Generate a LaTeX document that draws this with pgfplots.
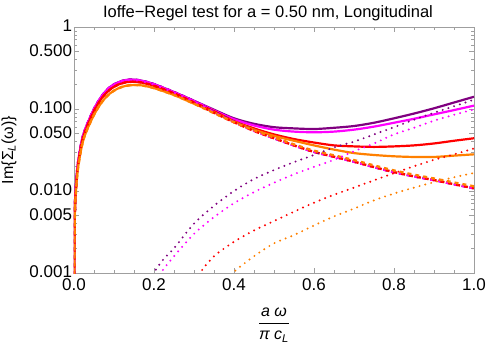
\documentclass[border=0pt]{standalone}
\usepackage{fontspec}
\setmainfont{Liberation Sans}
\usepackage{amsmath}
\usepackage{pgfplots}
\pgfplotsset{compat=1.18}
\usepackage{pgfplotstable}

\definecolor{cpu}{RGB}{128,0,128}
\definecolor{cma}{RGB}{255,0,255}
\definecolor{cre}{RGB}{255,0,0}
\definecolor{cor}{RGB}{255,128,0}

% total Im Sigma_L for the four cases
\pgfplotstableread{
x      pu     ma     re     or
0.0002 0.0006 0.0006 0.0005 0.0005
0.002  0.0055 0.0055 0.0052 0.0048
0.005  0.012  0.012  0.011  0.010
0.01   0.022  0.022  0.021  0.019
0.02   0.042  0.042  0.040  0.036
0.03   0.060  0.060  0.057  0.052
0.05   0.100  0.100  0.095  0.085
0.07   0.145  0.145  0.137  0.122
0.09   0.185  0.185  0.173  0.155
0.11   0.211  0.210  0.198  0.178
0.13   0.226  0.225  0.212  0.192
0.15   0.228  0.227  0.215  0.196
0.17   0.221  0.220  0.210  0.194
0.20   0.201  0.200  0.192  0.180
0.25   0.161  0.160  0.155  0.148
0.30   0.126  0.125  0.120  0.116
0.35   0.098  0.096  0.094  0.091
0.40   0.077  0.075  0.071  0.070
0.45   0.066  0.063  0.058  0.056
0.50   0.060  0.056  0.049  0.047
0.55   0.058  0.053  0.043  0.041
0.60   0.057  0.052  0.039  0.036
0.65   0.059  0.053  0.036  0.032
0.70   0.062  0.056  0.035  0.029
0.75   0.068  0.061  0.0345 0.0275
0.80   0.077  0.068  0.035  0.0265
0.85   0.088  0.076  0.036  0.026
0.90   0.102  0.086  0.038  0.026
0.95   0.120  0.097  0.041  0.027
1.00   0.141  0.110  0.044  0.028
}\solid

% first contribution (dashed)
\pgfplotstableread{
x      pu     ma     re     or
0.0002 0.0006 0.0006 0.0005 0.0005
0.002  0.0055 0.0055 0.0052 0.0048
0.005  0.012  0.012  0.011  0.010
0.01   0.022  0.022  0.021  0.019
0.02   0.042  0.042  0.040  0.036
0.03   0.060  0.060  0.057  0.052
0.05   0.100  0.100  0.095  0.085
0.07   0.145  0.145  0.137  0.122
0.09   0.185  0.185  0.173  0.155
0.11   0.211  0.210  0.198  0.178
0.13   0.226  0.225  0.212  0.192
0.15   0.228  0.227  0.215  0.196
0.17   0.221  0.220  0.210  0.194
0.20   0.201  0.200  0.192  0.180
0.25   0.161  0.160  0.155  0.148
0.30   0.125  0.124  0.120  0.116
0.35   0.092  0.091  0.090  0.089
0.40   0.070  0.069  0.069  0.069
0.45   0.055  0.054  0.054  0.055
0.50   0.044  0.044  0.044  0.045
0.55   0.036  0.036  0.036  0.037
0.60   0.0300 0.0300 0.0300 0.0310
0.65   0.0262 0.0262 0.0262 0.0272
0.70   0.0228 0.0228 0.0228 0.0238
0.75   0.0196 0.0196 0.0196 0.0205
0.80   0.0170 0.0170 0.0170 0.0178
0.85   0.0151 0.0151 0.0151 0.0158
0.90   0.0136 0.0136 0.0136 0.0142
0.95   0.0121 0.0121 0.0121 0.0127
1.00   0.0108 0.0108 0.0108 0.0114
}\dashd

% second contribution (dotted), one table per case
\pgfplotstableread{
x     y
0.195 0.0008
0.200 0.0010
0.210 0.0012
0.225 0.0015
0.25  0.0020
0.30  0.0040
0.35  0.0066
0.40  0.0100
0.45  0.0140
0.50  0.0180
0.55  0.0225
0.60  0.0275
0.65  0.0340
0.70  0.0400
0.75  0.0490
0.80  0.0600
0.85  0.0740
0.90  0.0900
0.95  0.1080
1.00  0.1300
}\dotpu
\pgfplotstableread{
x     y
0.212 0.0008
0.217 0.0010
0.25  0.0016
0.30  0.0030
0.35  0.0048
0.40  0.0071
0.45  0.0097
0.50  0.0126
0.55  0.0160
0.60  0.0197
0.65  0.0240
0.70  0.0305
0.75  0.0380
0.80  0.0490
0.85  0.0590
0.90  0.0720
0.95  0.0850
1.00  0.0990
}\dotma
\pgfplotstableread{
x     y
0.310 0.0008
0.315 0.0010
0.35  0.0016
0.40  0.0024
0.45  0.0033
0.50  0.0043
0.55  0.0056
0.60  0.0072
0.65  0.0090
0.70  0.0110
0.75  0.0135
0.80  0.0165
0.85  0.0200
0.90  0.0240
0.95  0.0280
1.00  0.0330
}\dotre
\pgfplotstableread{
x     y
0.392 0.0008
0.397 0.0010
0.45  0.0016
0.50  0.0023
0.55  0.0029
0.60  0.0038
0.65  0.0049
0.70  0.0061
0.75  0.0077
0.80  0.0093
0.85  0.0110
0.90  0.0128
0.95  0.0147
1.00  0.0166
}\dotor

\begin{document}
\begin{tikzpicture}
  \begin{axis}[
      scale only axis,
      width=400bp, height=246bp,
      at={(0,0)}, anchor=south west,
      xmin=0, xmax=1,
      ymode=log, ymin=0.001, ymax=1,
      font=\fontsize{16bp}{19bp}\selectfont,
      ticklabel style={font=\fontsize{17bp}{19bp}\selectfont},
      axis line style={gray!75, line width=0.6bp},
      tick style={gray!75, line width=0.5bp},
      tick align=inside,
      major tick length=5bp, minor tick length=3bp,
      xtick={0,0.2,0.4,0.6,0.8,1},
      xticklabels={0.0,0.2,0.4,0.6,0.8,1.0},
      minor x tick num=3,
      ytick={0.001,0.005,0.01,0.05,0.1,0.5,1},
      yticklabels={0.001,0.005,0.010,0.050,0.100,0.500,1},
      minor ytick={0.002,0.003,0.004,0.006,0.007,0.008,0.009,
                   0.02,0.03,0.04,0.06,0.07,0.08,0.09,
                   0.2,0.3,0.4,0.6,0.7,0.8,0.9},
      yticklabel style={xshift=1.5bp, yshift=1bp},
      xticklabel style={yshift=-2.5bp},
      title={Ioffe−Regel test for a = 0.50 nm, Longitudinal},
      every axis title shift=0pt,
      title style={at={(axis description cs:0.485,1.038)}, anchor=base,
                   font=\fontsize{16.5bp}{19bp}\selectfont},
      xlabel={$\dfrac{\text{\itshape a ω}}{\text{\itshape π c}_{\text{\itshape L}}}$},
      xlabel style={at={(axis description cs:0.5,-0.211)}, anchor=center},
      ylabel={Im\{Σ\textsubscript{\itshape L}(ω)\}},
      ylabel style={at={(axis description cs:-0.1625,0.5)}, anchor=center},
      every axis plot/.append style={smooth},
    ]
    % solid totals
    \addplot[cpu, line width=2.2bp] table[x=x, y=pu] {\solid};
    \addplot[cma, line width=2.2bp] table[x=x, y=ma] {\solid};
    \addplot[cre, line width=2.2bp] table[x=x, y=re] {\solid};
    \addplot[cor, line width=2.2bp] table[x=x, y=or] {\solid};
    % dashed
    \addplot[cpu, line width=2.4bp, dash pattern=on 4bp off 4bp] table[x=x, y=pu] {\dashd};
    \addplot[cma, line width=2.4bp, dash pattern=on 4bp off 4bp] table[x=x, y=ma] {\dashd};
    \addplot[cre, line width=2.4bp, dash pattern=on 4bp off 4bp, dash phase=2bp] table[x=x, y=re] {\dashd};
    \addplot[cor, line width=2.4bp, dash pattern=on 4bp off 4bp, dash phase=1bp] table[x=x, y=or] {\dashd};
    % dotted
    \addplot[cpu, line width=2.2bp, line cap=round, dash pattern=on 0bp off 6bp] table {\dotpu};
    \addplot[cma, line width=2.2bp, line cap=round, dash pattern=on 0bp off 6bp] table {\dotma};
    \addplot[cre, line width=2.2bp, line cap=round, dash pattern=on 0bp off 6bp] table {\dotre};
    \addplot[cor, line width=2.2bp, line cap=round, dash pattern=on 0bp off 6bp] table {\dotor};
  \end{axis}
  \pgfresetboundingbox
  \useasboundingbox (-74bp,-75bp) rectangle (414bp,273bp);
\end{tikzpicture}
\end{document}
